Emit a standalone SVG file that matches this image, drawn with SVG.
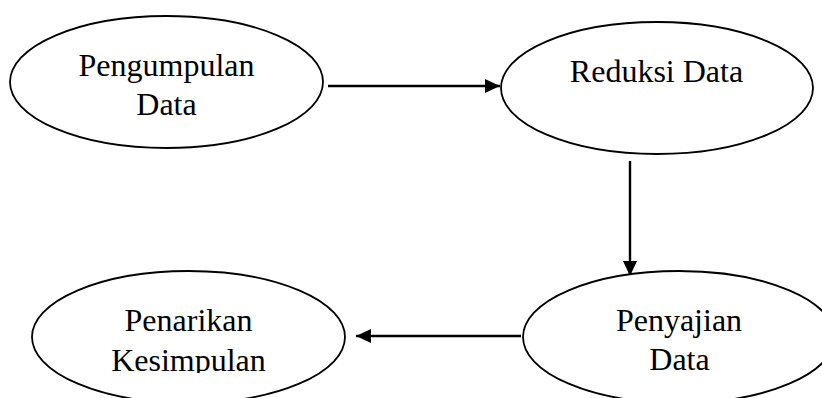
<svg xmlns="http://www.w3.org/2000/svg" width="822" height="398" viewBox="0 0 822 398">
<style>
.node ellipse{fill:#fff;stroke:#000;stroke-width:1.8}
.node text{font-family:"Liberation Serif","Times New Roman",serif;font-size:32px;fill:#000;text-anchor:middle}
.edge{stroke:#000;stroke-width:2.4;fill:none;marker-end:url(#ah)}
</style>
<defs>
<marker id="ah" markerUnits="userSpaceOnUse" markerWidth="16" markerHeight="16" viewBox="0 0 16 16" refX="15" refY="8" orient="auto">
<path d="M0,1 L15,8 L0,15 Z" fill="#000"/>
</marker>
<clipPath id="clipK"><rect x="0" y="0" width="822" height="373"/></clipPath>
</defs>
<rect width="822" height="398" fill="#fff"/>
<g id="connectors">
<line class="edge" x1="328" y1="86" x2="500" y2="86"/>
<line class="edge" x1="630" y1="161" x2="630" y2="276"/>
<line class="edge" x1="521" y1="336" x2="356" y2="336"/>
</g>
<g id="pengumpulan" class="node">
<ellipse cx="166.5" cy="82" rx="156.5" ry="66"/>
<text x="166.5" y="76">Pengumpulan</text>
<text x="166.5" y="115">Data</text>
</g>
<g id="reduksi" class="node">
<ellipse cx="657" cy="88" rx="156" ry="66"/>
<text x="656.5" y="82">Reduksi Data</text>
</g>
<g id="penyajian" class="node">
<ellipse cx="679" cy="337" rx="156" ry="66"/>
<text x="679" y="331">Penyajian</text>
<text x="679.5" y="370">Data</text>
</g>
<g id="penarikan" class="node">
<ellipse cx="188.5" cy="337" rx="156.5" ry="66"/>
<text x="188.5" y="331">Penarikan</text>
<text x="188.5" y="371" clip-path="url(#clipK)">Kesimpulan</text>
</g>
</svg>
